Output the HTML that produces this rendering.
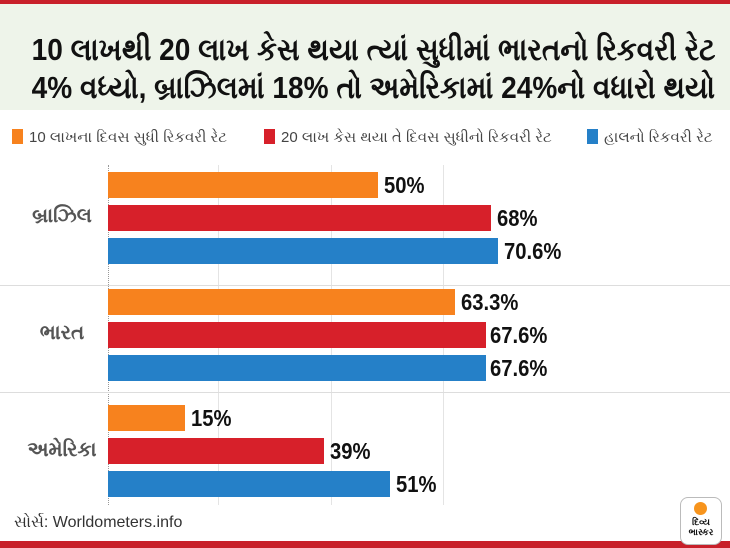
<!DOCTYPE html>
<html><head><meta charset="utf-8"><style>
*{margin:0;padding:0;box-sizing:border-box}
body{width:730px;height:548px;overflow:hidden;background:#fff;font-family:"Liberation Sans",sans-serif;position:relative}
.a{position:absolute}
.title{left:-3px;width:730px;text-align:center;font-weight:bold;font-size:31px;color:#111;line-height:38px;white-space:nowrap;transform:scaleX(0.905);transform-origin:center}
.bar{position:absolute;height:26px;left:108px}
.o{background:#f7821e}.r{background:#d7202a}.b{background:#2580c8}
.v{position:absolute;font-weight:bold;font-size:23px;color:#111;line-height:26px;transform:scaleX(0.88);transform-origin:left}
.cat{position:absolute;left:22px;width:80px;text-align:center;font-size:20px;color:#555;font-weight:bold}
.leg{position:absolute;top:128px;font-size:15px;color:#444;line-height:20px;white-space:nowrap}
.leg i{display:inline-block;width:11px;height:15px;vertical-align:-2px;margin-right:6px}
.g{position:absolute;top:165px;height:340px;width:1px;background:#e4e4e4}
</style></head><body>
<div class="a" style="left:0;top:0;width:730px;height:4px;background:#c8202a"></div>
<div class="a" style="left:0;top:4px;width:730px;height:106px;background:#eef4ea"></div>
<div class="a title" style="top:31px">10 લાખથી 20 લાખ કેસ થયા ત્યાં સુધીમાં ભારતનો રિકવરી રેટ</div>
<div class="a title" style="top:69px">4% વધ્યો, બ્રાઝિલમાં 18% તો અમેરિકામાં 24%નો વધારો થયો</div>
<div class="leg" style="left:12px"><i style="background:#f7821e"></i>10 લાખના દિવસ સુધી રિકવરી રેટ</div>
<div class="leg" style="left:264px"><i style="background:#d7202a"></i>20 લાખ કેસ થયા તે દિવસ સુધીનો રિકવરી રેટ</div>
<div class="leg" style="left:587px"><i style="background:#2580c8"></i>હાલનો રિકવરી રેટ</div>
<div class="g" style="left:218px"></div><div class="g" style="left:331px"></div><div class="g" style="left:443px"></div>
<div class="a" style="left:108px;top:165px;height:340px;border-left:1px dotted #999"></div>
<div class="a" style="left:0;top:285px;width:730px;height:1px;background:#ddd"></div>
<div class="a" style="left:0;top:392px;width:730px;height:1px;background:#ddd"></div>

<div class="bar o" style="top:172px;width:270px"></div><div class="v" style="top:172px;left:384px">50%</div>
<div class="bar r" style="top:205px;width:383px"></div><div class="v" style="top:205px;left:497px">68%</div>
<div class="bar b" style="top:238px;width:390px"></div><div class="v" style="top:238px;left:504px">70.6%</div>
<div class="cat" style="top:205px">બ્રાઝિલ</div>

<div class="bar o" style="top:289px;width:347px"></div><div class="v" style="top:289px;left:461px">63.3%</div>
<div class="bar r" style="top:322px;width:378px"></div><div class="v" style="top:322px;left:490px">67.6%</div>
<div class="bar b" style="top:355px;width:378px"></div><div class="v" style="top:355px;left:490px">67.6%</div>
<div class="cat" style="top:322px">ભારત</div>

<div class="bar o" style="top:405px;width:77px"></div><div class="v" style="top:405px;left:191px">15%</div>
<div class="bar r" style="top:438px;width:216px"></div><div class="v" style="top:438px;left:330px">39%</div>
<div class="bar b" style="top:471px;width:282px"></div><div class="v" style="top:471px;left:396px">51%</div>
<div class="cat" style="top:439px">અમેરિકા</div>

<div class="a" style="left:14px;top:514px;font-size:16px;color:#333">સોર્સ: Worldometers.info</div>
<div class="a" style="left:0;top:541px;width:730px;height:7px;background:#c8202a"></div>
<div class="a" style="left:680px;top:497px;width:42px;height:48px;background:#fff;border:1px solid #bbb;border-radius:8px"></div>
<div class="a" style="left:694px;top:502px;width:13px;height:13px;border-radius:50%;background:#f7941d"></div>
<div class="a" style="left:684px;top:517px;width:34px;font-size:9px;font-weight:bold;text-align:center;line-height:10px;color:#111">દિવ્ય<br>ભાસ્કર</div>
</body></html>
